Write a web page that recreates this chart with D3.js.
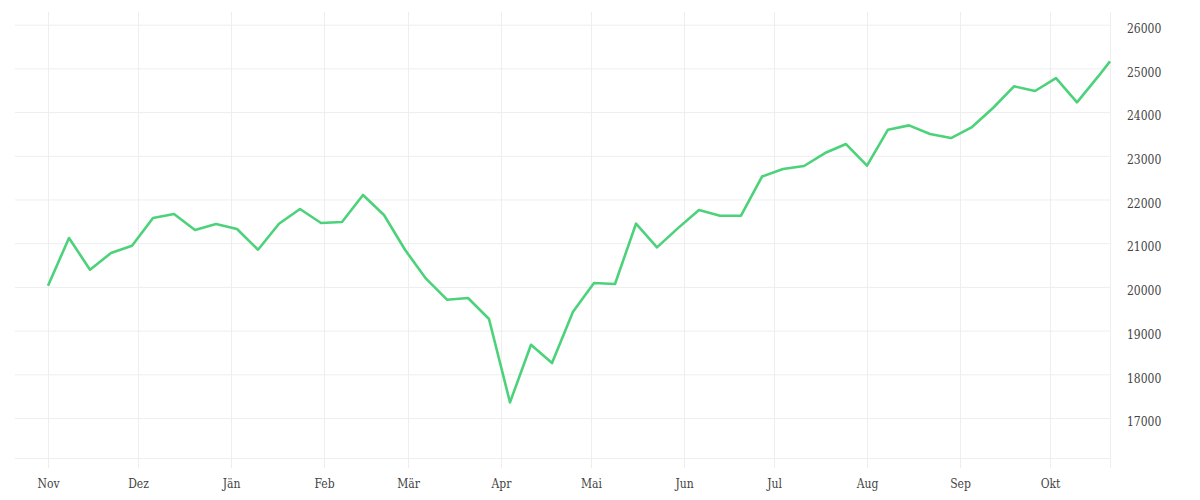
<!DOCTYPE html>
<html>
<head>
<meta charset="utf-8">
<script src="https://cdn.jsdelivr.net/npm/d3@7"></script>
<style>
  html, body { margin: 0; padding: 0; background: #ffffff; }
  svg { display: block; }
  .tick text { font-family: "DejaVu Serif Condensed", "DejaVu Serif", serif; font-stretch: condensed; font-size: 12px; fill: #444444; }
</style>
</head>
<body>
<svg id="chart" width="1200" height="500"></svg>
<script>
// ---- data ----
const firstDate = "2024-11-01";
const lastDate = "2025-10-21";
const values = [
  20027, 21119, 20394, 20775, 20943, 21576, 21668, 21302, 21439, 21325,
  20851, 21446, 21782, 21462, 21485, 22103, 21645, 20850, 20188, 19707,
  19746, 19265, 17357, 18677, 18258, 19432, 20089, 20066, 21446, 20904,
  21345, 21760, 21629, 21629, 22525, 22697, 22766, 23063, 23269, 22773,
  23597, 23696, 23498, 23406, 23658, 24093, 24589, 24482, 24779, 24223,
  24810, 25161
];
const monthLabels = ["Nov", "Dez", "Jän", "Feb", "Mär", "Apr", "Mai", "Jun", "Jul", "Aug", "Sep", "Okt"];
const yTicks = [17000, 18000, 19000, 20000, 21000, 22000, 23000, 24000, 25000, 26000];
const xDomain = ["2024-10-21", "2025-10-21"];
const yDomain = [16085, 26290];

(function () {
  const parse = d3.utcParse("%Y-%m-%d");
  const start = parse(firstDate);
  const dates = values.map((v, i) => i < values.length - 1 ? d3.utcDay.offset(start, 7 * i) : parse(lastDate));
  const data = values.map((v, i) => ({ date: dates[i], value: v }));

  const svg = d3.select("#chart");
  const mLeft = 15, mRight = 1110, mTop = 12, mBottom = 458;

  const x = d3.scaleUtc().domain(xDomain.map(parse)).range([mLeft, mRight]);
  const y = d3.scaleLinear().domain(yDomain).range([mBottom, mTop]);

  const monthTicks = d3.utcMonth.range(parse("2024-11-01"), parse("2025-10-02"));

  // vertical gridlines + x labels
  const xAxis = d3.axisBottom(x)
    .tickValues(monthTicks)
    .tickSizeOuter(0)
    .tickFormat((d, i) => monthLabels[i]);
  const gx = svg.append("g").attr("transform", `translate(0,${mBottom + 10})`).call(xAxis);
  gx.select(".domain").remove();
  gx.selectAll(".tick line").attr("stroke", "#eeeeee").attr("y1", 0).attr("y2", -(mBottom + 10 - mTop));
  gx.selectAll(".tick text").attr("y", 0).attr("dy", "20px");

  // horizontal gridlines + y labels (right)
  const yAxis = d3.axisRight(y)
    .tickValues(yTicks)
    .tickSize(-(mRight - mLeft))
    .tickSizeOuter(0)
    .tickPadding(17)
    .tickFormat(d3.format("d"));
  const gy = svg.append("g").attr("transform", `translate(${mRight},0)`).call(yAxis);
  gy.select(".domain").remove();
  gy.selectAll(".tick line").attr("stroke", "#eeeeee");
  gy.selectAll(".tick text").attr("dy", "7.7px");

  // bottom line and right edge line
  svg.append("line")
    .attr("x1", mLeft).attr("x2", mRight)
    .attr("y1", y(yDomain[0]) + 0.5).attr("y2", y(yDomain[0]) + 0.5)
    .attr("stroke", "#eeeeee");
  svg.append("line")
    .attr("x1", x(parse(xDomain[1])) + 0.5).attr("x2", x(parse(xDomain[1])) + 0.5)
    .attr("y1", mTop).attr("y2", mBottom + 10)
    .attr("stroke", "#eeeeee");

  // line
  const line = d3.line().x(d => x(d.date)).y(d => y(d.value));
  svg.append("path")
    .datum(data)
    .attr("fill", "none")
    .attr("stroke", "#4cd27a")
    .attr("stroke-width", 2.6)
    .attr("stroke-linejoin", "round")
    .attr("d", line);
})();
</script>
</body>
</html>
